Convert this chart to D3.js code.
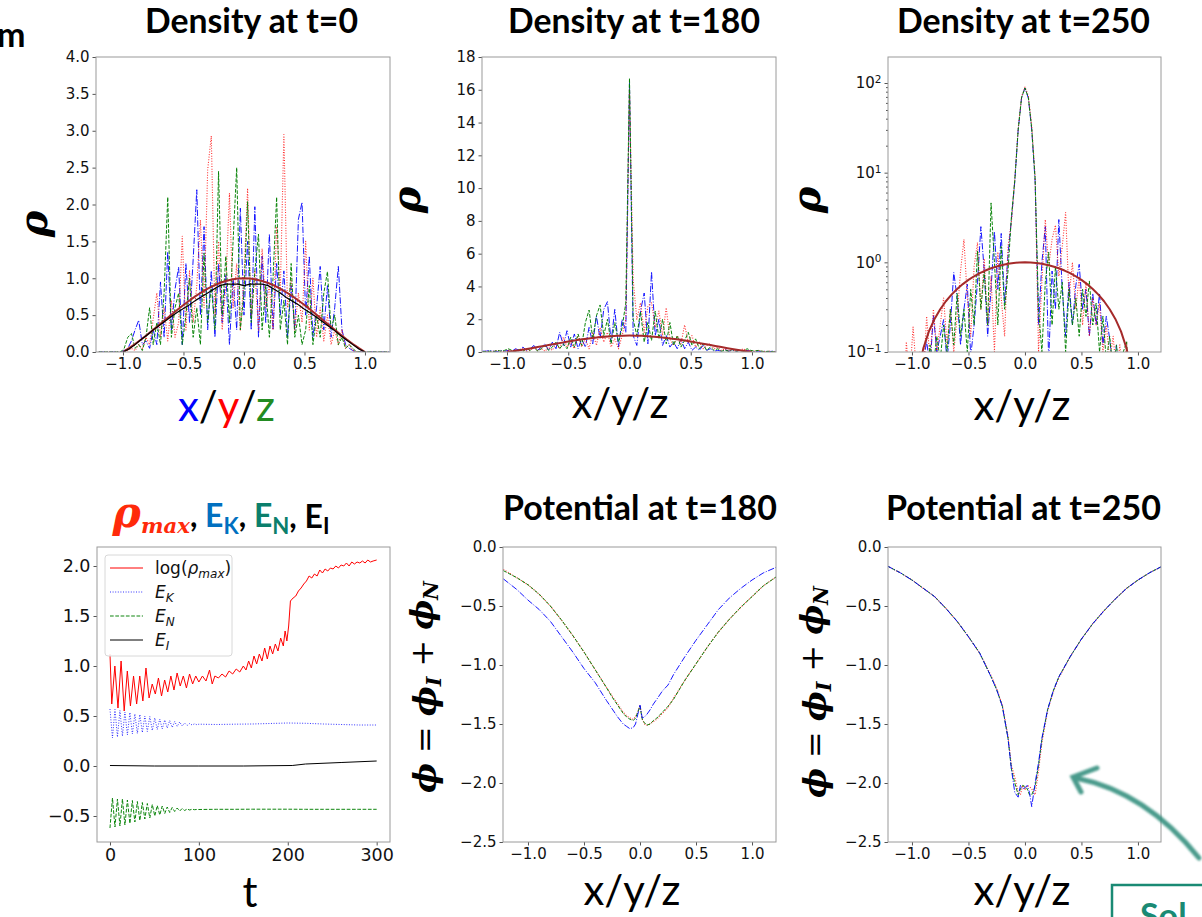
<!DOCTYPE html>
<html>
<head>
<meta charset="utf-8">
<script src="https://cdn.jsdelivr.net/npm/d3@7"></script>
<style>
  body { margin: 0; background: #fff; }
  svg { display: block; }
</style>
</head>
<body>
<div id="canvas"></div>
<script>
// sampling grid of the density cuts
const densX = [-1.2,-1.17,-1.14,-1.11,-1.08,-1.05,-1.02,-0.99,-0.96,-0.93,-0.9,-0.87,-0.84,-0.81,-0.78,-0.75,-0.72,-0.69,-0.66,-0.63,-0.6,-0.57,-0.54,-0.51,-0.48,-0.45,-0.42,-0.39,-0.36,-0.33,-0.3,-0.27,-0.24,-0.21,-0.18,-0.15,-0.12,-0.09,-0.06,-0.03,0,0.03,0.06,0.09,0.12,0.15,0.18,0.21,0.24,0.27,0.3,0.33,0.36,0.39,0.42,0.45,0.48,0.51,0.54,0.57,0.6,0.63,0.66,0.69,0.72,0.75,0.78,0.81,0.84,0.87,0.9,0.93,0.96,0.99,1.02,1.05,1.08,1.11,1.14,1.17,1.2]

// t = 0
const rho0Blue = [0,0,0,0,0,0,0, 0.02,0.05,0.15,0.3,0.43,0.1,0.15,0.05,0.3,0.1,0.95,0.2,1.36,0.3,
  0.85,1.15,0.1,1.2,0.4,1.25,2.2,0.5,1.7,0.3,1.1,0.2,1.2,0.4,1.05,0.1,1.0,0.3,1.95,0.5,
  1.5,0.3,1.97,0.2,1.3,0.4,1.6,0.3,1.2,0.5,1.1,0.2,0.9,0.3,1.8,2.03,0.5,1.3,0.2,0.6,
  1.16,0.3,0.9,0.2,0.6,1.16,0.3,0.1,0.05,0.02, 0,0,0,0,0,0,0,0,0,0]
const rho0Red = [0,0,0,0,0,0,0,0,0.02,0.05, 0.02,0.1,0.05,0.2,0.1,0.45,0.8,0.2,0.6,0.15,0.7,
  0.2,0.4,1.57,0.3,1.1,0.4,0.9,1.79,0.6,2.47,2.93,0.5,1.5,0.3,0.9,2.15,0.6,1.2,0.3,1.0,
  2.22,0.5,1.1,0.3,1.4,0.6,0.9,0.3,1.7,0.8,2.95,0.6,1.0,0.3,0.8,0.4,1.5,0.3,1.0,0.2,
  0.6,0.15,0.5,0.1,0.3,0.1,0.3,0.05,0.1,0.02, 0,0,0,0,0,0,0,0,0,0]
const rho0Green = [0,0,0,0,0,0,0, 0.05,0.2,0.25,0.05,0.1,0.02,0.2,0.6,0.1,0.4,0.1,0.8,2.1,0.2,
  0.6,0.8,0.1,0.5,1.0,0.2,0.6,0.1,1.34,0.4,0.9,0.3,2.45,0.5,1.3,0.4,1.5,2.5,0.3,0.8,
  2.04,0.4,1.1,1.6,0.3,0.9,0.2,1.0,2.1,0.3,0.7,0.1,1.2,0.2,0.5,0.1,0.3,0.9,0.1,0.5,
  0.2,0.8,1.09,0.3,0.5,0.1,0.2,0.05,0.1,0.05, 0,0,0,0,0,0,0,0,0,0]

// t = 180
const rho180Blue = [0.05,0.05,0.1,0.05,0.02,0.1,0.05,0.1,0.05,0.2,0.1, 0.3,0.1,0.2,0.4,0.1,0.3,0.5,0.1,0.6,0.2,
  1.2,0.4,1.3,0.3,1.1,0.2,0.8,0.3,1.5,0.5,2.2,0.8,2.6,3.07,0.6,2.6,0.3,2.0,1.2,16.4,
  1.0,0.4,2.5,3.6,0.5,4.9,1.0,2.0,0.4,1.0,0.3,0.6,0.2,0.8,0.2,0.6,0.1,0.3,0.1,0.4,
  0.1,0.2,0.05, 0.1,0.05,0.15,0.05,0.1,0.05,0.1,0.05,0.1,0.05,0.02,0.05,0.02,0.05,0.02,0.05,0.02]
const rho180Red = [0.02,0.05,0.02,0.05,0.1,0.05,0.02,0.1,0.05,0.15,0.05, 0.2,0.05,0.1,0.3,0.1,0.2,0.05,0.3,0.1,0.5,
  0.2,0.9,0.3,0.6,0.2,1.0,0.3,0.8,0.2,1.2,0.4,1.5,0.6,1.2,0.3,0.8,0.2,1.0,2.0,16.0,
  4.4,2.0,3.0,1.2,2.8,3.0,1.5,2.5,1.0,2.7,0.8,0.4,1.0,0.5,1.65,0.6,1.0,0.3,0.6,0.2,
  0.4,0.5,0.2,0.3,0.1,0.2, 0.05,0.15,0.05,0.1,0.2,0.05,0.1,0.05,0.1,0.05,0.02,0.05,0.02,0.02]
const rho180Green = [0.02,0.02,0.05,0.02,0.1,0.05,0.1,0.2,0.1,0.05,0.15, 0.05,0.2,0.1,0.3,0.05,0.2,0.4,0.1,0.3,0.6,
  0.2,0.5,0.2,0.9,0.3,1.1,0.4,1.8,2.56,0.8,2.2,2.87,1.0,2.0,0.5,1.8,0.6,1.5,3.0,16.7,
  2.0,1.0,2.46,0.6,1.8,0.7,2.5,0.8,2.0,0.5,1.8,0.4,1.0,0.3,0.7,1.2,0.4,0.8,0.2,0.5,
  0.1,0.3,0.1,0.2, 0.05,0.1,0.05,0.15,0.05,0.1,0.05,0.2,0.1,0.05,0.1,0.05,0.02,0.05,0.02,0.02]

// t = 250 (log axis)
const rho250Blue = [0.01,0.01,0.01,0.01,0.01,0.01,0.01,0.01, 0.03,0.06,0.08,0.13,0.07,0.26,0.1,0.15,0.23,0.08,0.2,0.77,0.4,
  0.12,0.3,0.57,0.09,0.2,0.6,2.5,0.8,0.15,0.5,2.2,0.5,2.1,0.35,1.2,3.0,8.0,30,68,88,
  68,30,8.0,0.2,1.0,2.5,0.08,0.8,0.3,3.0,0.5,0.15,0.6,0.2,0.55,0.95,0.3,0.5,0.15,0.45,
  0.2,0.45,0.12,0.25,0.14,0.06,0.12,0.05, 0.01,0.01,0.01,0.01,0.01,0.01,0.01,0.01,0.01,0.01,0.01,0.01]
const rho250Red = [0.01,0.01,0.01,0.01,0.01, 0.13,0.05,0.19,0.06,0.1,0.05,0.25,0.08,0.3,0.1,0.2,0.4,0.12,0.3,0.1,0.25,
  0.8,1.8,0.4,0.15,0.9,1.66,0.3,1.1,0.2,0.7,0.1,1.3,0.4,0.15,1.5,2.8,8.5,31,70,90,
  72,33,9.0,0.1,0.6,3.0,0.9,1.8,2.6,0.7,1.5,3.6,0.4,1.0,0.3,0.7,0.2,0.6,0.15,0.4,
  0.2,0.35,0.1,0.2,0.08,0.15,0.06,0.12,0.05,0.13, 0.01,0.01,0.01,0.01,0.01,0.01,0.01,0.01,0.01,0.01]
const rho250Green = [0.01,0.01,0.01,0.01,0.01,0.01,0.01,0.01,0.01, 0.03,0.06,0.05,0.12,0.07,0.15,0.08,0.2,0.1,0.3,0.12,0.45,
  0.15,0.3,0.1,0.5,0.2,1.34,0.3,0.8,0.2,4.6,1.0,0.2,1.5,0.3,0.8,3.2,8.2,30,69,88,
  69,31,8.5,0.3,0.1,0.6,1.3,0.2,0.9,0.3,0.6,0.1,0.5,0.2,0.4,0.15,0.5,0.25,0.62,0.2,
  0.35,0.1,0.25,0.08,0.15,0.06,0.12,0.05,0.1,0.13, 0.01,0.01,0.01,0.01,0.01,0.01,0.01,0.01,0.01,0.01]

// smooth profiles (initial analytic profile and its sampled version)
const smoothX = [-1,-0.95,-0.9,-0.85,-0.8,-0.75,-0.7,-0.65,-0.6,-0.55,-0.5,-0.45,-0.4,-0.35,-0.3,-0.25,-0.2,-0.15,-0.1,-0.05,0,
  0.05,0.1,0.15,0.2,0.25,0.3,0.35,0.4,0.45,0.5,0.55,0.6,0.65,0.7,0.75,0.8,0.85,0.9,0.95,1]
const rhoProfile = [0,0.052,0.109,0.170,0.234,0.300,0.368,0.436,0.505,0.572,0.637,0.699,0.757,0.810,0.858,0.900,0.936,0.963,0.984,0.996,1,
  0.996,0.984,0.963,0.936,0.900,0.858,0.810,0.757,0.699,0.637,0.572,0.505,0.436,0.368,0.300,0.234,0.170,0.109,0.052,0]
const rho0Black = [0,0.04,0.1,0.17,0.23,0.3,0.36,0.42,0.48,0.54,0.59,0.64,0.7,0.75,0.8,0.85,0.9,0.92,0.92,0.92,0.9,
  0.92,0.92,0.92,0.9,0.85,0.8,0.74,0.69,0.64,0.58,0.53,0.47,0.41,0.35,0.29,0.22,0.16,0.1,0.04,0]

// potential cuts
const potX = [-1.22,-1.1,-1.0,-0.9,-0.8,-0.7,-0.6,-0.5,-0.4,-0.3,-0.25,-0.2,-0.15,-0.12,-0.09,-0.06,-0.04,-0.02,0,
  0.02,0.04,0.06,0.09,0.12,0.15,0.2,0.25,0.3,0.4,0.5,0.6,0.7,0.8,0.9,1.0,1.1,1.22]
const phi180Red = [-0.19,-0.26,-0.32,-0.40,-0.50,-0.62,-0.75,-0.89,-1.04,-1.19,-1.26,-1.33,-1.40,-1.43,-1.45,-1.46,-1.44,-1.40,-1.34,
  -1.46,-1.50,-1.51,-1.50,-1.48,-1.46,-1.41,-1.36,-1.28,-1.13,-0.99,-0.85,-0.72,-0.61,-0.51,-0.42,-0.33,-0.25]
const phi180Green = [-0.20,-0.26,-0.32,-0.40,-0.50,-0.62,-0.75,-0.89,-1.04,-1.19,-1.27,-1.34,-1.41,-1.44,-1.46,-1.47,-1.45,-1.40,-1.35,
  -1.46,-1.49,-1.51,-1.50,-1.47,-1.45,-1.40,-1.35,-1.29,-1.13,-0.99,-0.85,-0.72,-0.61,-0.51,-0.42,-0.33,-0.25]
const phi180Blue = [-0.27,-0.36,-0.45,-0.53,-0.63,-0.76,-0.89,-1.03,-1.15,-1.30,-1.37,-1.44,-1.50,-1.52,-1.54,-1.53,-1.50,-1.42,-1.34,
  -1.45,-1.44,-1.42,-1.38,-1.33,-1.29,-1.22,-1.17,-1.08,-0.93,-0.79,-0.66,-0.53,-0.43,-0.35,-0.28,-0.22,-0.17]
const phi250Red = [-0.16,-0.22,-0.28,-0.35,-0.42,-0.52,-0.63,-0.76,-0.90,-1.09,-1.20,-1.34,-1.60,-1.85,-1.95,-2.08,-2.10,-2.02,-2.06,
  -2.02,-2.03,-2.05,-2.10,-1.90,-1.66,-1.39,-1.23,-1.11,-0.93,-0.78,-0.65,-0.54,-0.44,-0.35,-0.28,-0.22,-0.16]
const phi250Green = [-0.16,-0.22,-0.28,-0.35,-0.42,-0.52,-0.63,-0.76,-0.90,-1.10,-1.21,-1.35,-1.62,-1.88,-2.00,-2.10,-2.05,-2.02,-2.03,
  -2.05,-2.10,-2.10,-2.03,-1.85,-1.63,-1.38,-1.22,-1.10,-0.93,-0.78,-0.65,-0.54,-0.44,-0.35,-0.28,-0.22,-0.16]
const phi250Blue = [-0.16,-0.22,-0.28,-0.35,-0.42,-0.52,-0.63,-0.76,-0.90,-1.10,-1.21,-1.35,-1.62,-1.88,-2.08,-2.12,-2.02,-2.05,-2.04,
  -2.02,-2.08,-2.20,-2.00,-1.83,-1.62,-1.38,-1.22,-1.10,-0.93,-0.78,-0.65,-0.54,-0.44,-0.35,-0.28,-0.22,-0.16]

// time histories
const tRho = [0,2,5.5,9,12.5,16,19.5,23,26.5,30,33.5,37,40.5,44,47.5,51,54.5,58,61.5,65,68.5,72,75.5,79,82.5,86,89.5,93,96.5,100,
  104,108,112,115,118,122,126,130,134,138,142,146,150,153,156,159,162,165,168,171,174,177,180,183,186,189,192,195,197,199,201,
  203,206,209,212,215,218,221,224,227,230,233,236,239,242,245,248,251,254,257,260,263,266,269,272,275,278,281,284,287,290,293,296,300]
const logRhoMax = [1.12,0.62,1.0,0.58,1.05,0.55,0.95,0.6,0.9,0.62,0.9,0.65,0.98,0.68,0.82,0.72,0.88,0.7,0.86,0.74,0.9,0.76,0.93,0.8,0.9,0.78,0.92,0.82,0.9,0.84,
  0.9,0.85,0.96,0.82,0.9,0.88,0.92,0.89,0.95,0.92,0.97,0.94,1.0,0.96,1.05,0.98,1.1,1.02,1.12,1.05,1.18,1.07,1.2,1.12,1.22,1.15,1.28,1.2,1.35,1.25,1.4,
  1.65,1.68,1.7,1.75,1.78,1.82,1.85,1.9,1.88,1.92,1.9,1.96,1.93,1.97,1.95,1.98,1.97,2.0,1.98,2.01,2.0,2.03,2.0,2.04,2.02,2.04,2.03,2.05,2.03,2.06,2.04,2.05,2.06]
const tOsc = [0,2.8,5.6,8.4,11.2,14,16.8,19.6,22.4,25.2,28,30.8,33.6,36.4,39.2,42,44.8,47.6,50.4,53.2,56,58.8,61.6,64.4,67.2,70,
  72.8,75.6,78.4,81.2,84,86.8,89.6,92.4,95.2,98,100,120,140,160,180,200,220,240,260,280,300]
const kinetic = [0.57,0.28,0.565,0.29,0.555,0.3,0.54,0.31,0.535,0.32,0.52,0.325,0.515,0.335,0.5,0.345,0.495,0.355,0.48,0.365,0.47,0.37,0.46,0.38,0.455,0.385,
  0.445,0.395,0.44,0.4,0.43,0.405,0.425,0.41,0.422,0.412,0.418,0.415,0.418,0.42,0.425,0.43,0.427,0.42,0.415,0.41,0.41]
const newtonian = [-0.62,-0.32,-0.61,-0.33,-0.6,-0.33,-0.59,-0.34,-0.575,-0.345,-0.56,-0.355,-0.545,-0.365,-0.53,-0.375,-0.52,-0.385,-0.5,-0.395,-0.49,-0.4,-0.475,-0.41,-0.465,-0.415,
  -0.455,-0.42,-0.45,-0.425,-0.445,-0.43,-0.44,-0.432,-0.437,-0.434,-0.435,-0.433,-0.433,-0.432,-0.432,-0.432,-0.433,-0.433,-0.433,-0.433,-0.433]
const tInt = [0,50,100,150,205,220,260,300]
const internal = [0.005,0.0,0.0,0.0,0.005,0.02,0.035,0.05]

// ticks
const xCutTicks = [-1.0,-0.5,0.0,0.5,1.0]
const rho0Ticks = [0,0.5,1,1.5,2,2.5,3,3.5,4]
const rho180Ticks = [0,2,4,6,8,10,12,14,16,18]
const rho250Ticks = [0.1,1,10,100]
const tTicks = [0,100,200,300]
const energyTicks = [-0.5,0,0.5,1,1.5,2]
const phiTicks = [0,-0.5,-1,-1.5,-2,-2.5]

const W = 1202, H = 917
const SANS = 'Lato, "Open Sans", sans-serif'
const MATH = '"DejaVu Serif", serif'
const TICK = '"DejaVu Sans", sans-serif'

const svg = d3.select('#canvas').append('svg')
    .attr('width', W)
    .attr('height', H)
    .style('font-family', SANS)

const defs = svg.append('defs')
defs.append('filter').attr('id', 'soft')
  .append('feGaussianBlur').attr('stdDeviation', 0.9)

function fit(t, w) {
  const len = t.node().getComputedTextLength()
  const fs = parseFloat(t.attr('font-size'))
  t.attr('font-size', (fs * w / len).toFixed(2))
  return t
}

const styles = {
  blue: {stroke: '#0000ff', dash: '6.4,1.6,1,1.6', width: 1, op: 0.9},
  red: {stroke: '#ff0000', dash: '1,1.6', width: 1.1, op: 0.8},
  green: {stroke: '#008000', dash: '3.7,1.6', width: 1, op: 0.95},
  solidRed: {stroke: '#ff0000', dash: null, width: 1, op: 1},
  dotBlue: {stroke: '#0000ff', dash: '1,1.6', width: 1, op: 0.8},
  black: {stroke: '#000', dash: null, width: 1.2, op: 1},
  brown: {stroke: '#a52a2a', dash: null, width: 2, op: 1}
}

let clipN = 0
function panel(o) {
  const g = svg.append('g')
  const id = 'clip' + (clipN++)
  defs.append('clipPath').attr('id', id)
    .append('rect')
      .attr('x', o.left).attr('y', o.top)
      .attr('width', o.right - o.left).attr('height', o.bottom - o.top)

  const x = d3.scaleLinear().domain(o.xDomain).range([o.left, o.right])
  const y = (o.log ? d3.scaleLog() : d3.scaleLinear()).domain(o.yDomain).range([o.bottom, o.top])

  const ax = g.append('g')
      .attr('transform', 'translate(0,' + o.bottom + ')')
      .call(d3.axisBottom(x).tickValues(o.xTicks).tickFormat(o.xFmt).tickSize(3.5).tickPadding(3).tickSizeOuter(0))
  const ay = g.append('g')
      .attr('transform', 'translate(' + o.left + ',0)')
      .call(d3.axisLeft(y).tickValues(o.yTicks).tickFormat(o.log ? () => '' : o.yFmt).tickSize(3.5).tickPadding(3).tickSizeOuter(0))

  if (o.log) {
    const minor = y.ticks().filter(v => o.yTicks.indexOf(v) < 0)
    g.append('g')
        .attr('transform', 'translate(' + o.left + ',0)')
        .call(d3.axisLeft(y).tickValues(minor).tickFormat('').tickSize(2).tickSizeOuter(0))
        .call(a => a.select('.domain').remove())
        .selectAll('line').attr('stroke', '#555')
    ay.selectAll('.tick text').each(function (d) {
      const t = d3.select(this)
      t.append('tspan').text('10')
      t.append('tspan').attr('dy', '-0.5em').attr('font-size', '0.7em')
        .text(d3.format('d')(Math.round(Math.log10(d))))
    })
  }

  ;[ax, ay].forEach(a => {
    a.attr('font-family', TICK).attr('font-size', o.tickFont)
    a.select('.domain').remove()
    a.selectAll('line').attr('stroke', '#555')
    a.selectAll('text').attr('fill', '#111')
  })

  g.append('rect')
      .attr('x', o.left).attr('y', o.top)
      .attr('width', o.right - o.left).attr('height', o.bottom - o.top)
      .attr('fill', 'none').attr('stroke', '#9a9a9a').attr('stroke-width', 1)

  const plot = g.insert('g', 'rect').attr('clip-path', 'url(#' + id + ')')
  return {plot, x, y, log: o.log}
}

function series(p, xs, ys, st) {
  const line = d3.line()
      .x((d, i) => p.x(xs[i]))
      .y(d => p.y(p.log ? Math.max(d, 0.01) : d))
  p.plot.append('path')
      .datum(ys)
      .attr('d', line)
      .attr('fill', 'none')
      .attr('stroke', st.stroke)
      .attr('stroke-width', st.width)
      .attr('stroke-opacity', st.op)
      .attr('stroke-dasharray', st.dash)
      .attr('stroke-linejoin', 'round')
}

const f1 = d3.format('.1f')
const fInt = d3.format('d')

// ---- top row: density cuts
const pD0 = panel({left: 96, right: 390, top: 57, bottom: 352, xDomain: [-1.223, 1.207], yDomain: [0, 4],
  xTicks: xCutTicks, yTicks: rho0Ticks, xFmt: f1, yFmt: f1, tickFont: 15})
series(pD0, densX, rho0Blue, styles.blue)
series(pD0, densX, rho0Red, styles.red)
series(pD0, densX, rho0Green, styles.green)
series(pD0, smoothX, rhoProfile, styles.brown)
series(pD0, smoothX, rho0Black, styles.black)

const pD180 = panel({left: 482, right: 776, top: 57, bottom: 352, xDomain: [-1.204, 1.196], yDomain: [0, 18],
  xTicks: xCutTicks, yTicks: rho180Ticks, xFmt: f1, yFmt: fInt, tickFont: 15})
series(pD180, densX, rho180Blue, styles.blue)
series(pD180, densX, rho180Red, styles.red)
series(pD180, densX, rho180Green, styles.green)
series(pD180, smoothX, rhoProfile, styles.brown)

const pD250 = panel({left: 888, right: 1161, top: 57, bottom: 352, xDomain: [-1.212, 1.204], yDomain: [0.1, 195], log: true,
  xTicks: xCutTicks, yTicks: rho250Ticks, xFmt: f1, tickFont: 15})
series(pD250, densX, rho250Blue, styles.blue)
series(pD250, densX, rho250Red, styles.red)
series(pD250, densX, rho250Green, styles.green)
series(pD250, smoothX, rhoProfile, styles.brown)

// ---- bottom row
const pE = panel({left: 97, right: 390, top: 547, bottom: 842, xDomain: [-14.6, 315], yDomain: [-0.76, 2.19],
  xTicks: tTicks, yTicks: energyTicks, xFmt: fInt, yFmt: f1, tickFont: 17.5})
series(pE, tRho, logRhoMax, styles.solidRed)
series(pE, tOsc, kinetic, styles.dotBlue)
series(pE, tOsc, newtonian, styles.green)
series(pE, tInt, internal, {stroke: '#000', dash: null, width: 1, op: 1})

const pP180 = panel({left: 503, right: 776, top: 547, bottom: 842, xDomain: [-1.223, 1.214], yDomain: [-2.5, 0],
  xTicks: xCutTicks, yTicks: phiTicks, xFmt: f1, yFmt: f1, tickFont: 15})
series(pP180, potX, phi180Red, styles.red)
series(pP180, potX, phi180Green, styles.green)
series(pP180, potX, phi180Blue, styles.blue)

const pP250 = panel({left: 888, right: 1161, top: 547, bottom: 842, xDomain: [-1.212, 1.204], yDomain: [-2.5, 0],
  xTicks: xCutTicks, yTicks: phiTicks, xFmt: f1, yFmt: f1, tickFont: 15})
series(pP250, potX, phi250Red, styles.red)
series(pP250, potX, phi250Green, styles.green)
series(pP250, potX, phi250Blue, styles.blue)

// legend of the energy panel
const legendRows = [
  {st: styles.solidRed, main: 'log(', sym: 'ρ', sub: 'max', tail: ')'},
  {st: styles.dotBlue, main: '', sym: 'E', sub: 'K', tail: ''},
  {st: styles.green, main: '', sym: 'E', sub: 'N', tail: ''},
  {st: {stroke: '#000', dash: null, width: 1, op: 1}, main: '', sym: 'E', sub: 'I', tail: ''}
]
const lg = svg.append('g')
lg.append('rect')
    .attr('x', 105).attr('y', 555).attr('width', 127).attr('height', 101)
    .attr('rx', 3).attr('fill', '#fff').attr('fill-opacity', 0.85)
    .attr('stroke', '#d8d8d8')
legendRows.forEach((r, i) => {
  const yy = 568 + i * 24
  lg.append('line')
      .attr('x1', 110).attr('x2', 143).attr('y1', yy).attr('y2', yy)
      .attr('stroke', r.st.stroke).attr('stroke-width', r.st.width)
      .attr('stroke-opacity', r.st.op).attr('stroke-dasharray', r.st.dash)
  const t = lg.append('text')
      .attr('x', 155).attr('y', yy + 6)
      .attr('font-family', TICK).attr('font-size', 17).attr('fill', '#111')
  if (r.main) t.append('tspan').text(r.main)
  t.append('tspan').attr('font-style', 'italic').text(r.sym)
  t.append('tspan').attr('font-style', 'italic').attr('font-size', 12).attr('dy', 4).text(r.sub)
  if (r.tail) t.append('tspan').attr('dy', -4).text(r.tail)
})

// ---- titles
const titles = [
  {s: 'Density at t=0', cx: 251.5, y: 33, w: 213},
  {s: 'Density at t=180', cx: 634, y: 33, w: 252},
  {s: 'Density at t=250', cx: 1023.5, y: 33, w: 253},
  {s: 'Potential at t=180', cx: 640, y: 520, w: 274},
  {s: 'Potential at t=250', cx: 1023.5, y: 520, w: 275}
]
titles.forEach(d => {
  fit(svg.append('text')
      .attr('x', d.cx).attr('y', d.y)
      .attr('text-anchor', 'middle')
      .attr('font-weight', 700).attr('font-size', 30)
      .text(d.s), d.w)
})

// energy panel title
const et = svg.append('text')
    .attr('x', 221).attr('y', 527)
    .attr('text-anchor', 'middle')
    .attr('font-weight', 700).attr('font-size', 30)
et.append('tspan').attr('font-family', MATH).attr('font-style', 'italic').attr('fill', '#ff2a0a').text('ρ')
et.append('tspan').attr('font-family', MATH).attr('font-style', 'italic').attr('fill', '#ff2a0a')
  .attr('font-size', '0.5em').attr('dy', '0.3em').text('max')
et.append('tspan').attr('font-size', '0.75em').attr('dy', '-0.2em').text(', ')
const eParts = [['K', '#0070c0'], ['N', '#0b7f6c'], ['I', '#000']]
eParts.forEach((e, i) => {
  et.append('tspan').attr('font-size', '0.75em').attr('fill', e[1]).text('E')
  et.append('tspan').attr('font-size', '0.52em').attr('fill', e[1]).attr('dy', '0.3em').text(e[0])
  et.append('tspan').attr('font-size', '0.75em').attr('dy', '-0.2em').text(i < 2 ? ', ' : '')
})
fit(et, 217)

// x labels
const xyz = [
  {cx: 226.5, y: 421, colored: true},
  {cx: 620, y: 418},
  {cx: 1022, y: 420},
  {cx: 632, y: 905},
  {cx: 1022, y: 905}
]
let xyzSize = 40
xyz.forEach(d => {
  const t = svg.append('text')
      .attr('x', d.cx).attr('y', d.y)
      .attr('text-anchor', 'middle').attr('font-size', 40)
  if (d.colored) {
    const parts = [['x', '#0000ff'], ['/', '#000'], ['y', '#ff0000'], ['/', '#000'], ['z', '#228b22']]
    parts.forEach(p => t.append('tspan').attr('fill', p[1]).text(p[0]))
  } else {
    t.text('x/y/z')
  }
  fit(t, 97)
  xyzSize = +t.attr('font-size')
})
svg.append('text')
    .attr('x', 250).attr('y', 907)
    .attr('text-anchor', 'middle').attr('font-size', xyzSize)
    .text('t')

// y labels
;[[47, 224], [420, 200], [820, 200]].forEach(p => {
  svg.append('text')
      .attr('transform', 'translate(' + p[0] + ',' + p[1] + ') rotate(-90)')
      .attr('text-anchor', 'middle')
      .attr('font-family', MATH).attr('font-style', 'italic').attr('font-weight', 700)
      .attr('font-size', 40)
      .text('ρ')
})
;[[436, 687], [826, 692]].forEach(p => {
  const t = svg.append('text')
      .attr('transform', 'translate(' + p[0] + ',' + p[1] + ') rotate(-90)')
      .attr('text-anchor', 'middle')
      .attr('font-family', MATH).attr('font-weight', 700)
      .attr('font-size', 38)
  t.append('tspan').attr('font-style', 'italic').text('ϕ')
  t.append('tspan').attr('font-weight', 400).text(' = ')
  t.append('tspan').attr('font-style', 'italic').text('ϕ')
  t.append('tspan').attr('font-style', 'italic').attr('font-size', '0.65em').attr('dy', '0.25em').text('I')
  t.append('tspan').attr('font-weight', 400).attr('dy', '-0.25em').text(' + ')
  t.append('tspan').attr('font-style', 'italic').text('ϕ')
  t.append('tspan').attr('font-style', 'italic').attr('font-size', '0.65em').attr('dy', '0.25em').text('N')
  fit(t, 212)
})

// cropped-off neighbours of the slide
svg.append('text')
    .attr('x', -3).attr('y', 47)
    .attr('font-weight', 700).attr('font-size', 34)
    .text('m')

const arrow = svg.append('g')
    .attr('stroke', '#2a8a78').attr('stroke-width', 5).attr('fill', 'none')
    .attr('stroke-linecap', 'round').attr('filter', 'url(#soft)').attr('opacity', 0.85)
arrow.append('path').attr('d', 'M1199,858 Q1146,792 1076,778')
arrow.append('path').attr('d', 'M1097,768 L1073,777 L1081,792')

svg.append('rect')
    .attr('x', 1112).attr('y', 885).attr('width', 110).attr('height', 60)
    .attr('fill', '#fff').attr('stroke', '#1a8a74').attr('stroke-width', 2.5)
svg.append('text')
    .attr('x', 1140).attr('y', 928)
    .attr('font-weight', 700).attr('font-size', 34).attr('fill', '#1a8a74')
    .text('Sol')
</script>
</body>
</html>
